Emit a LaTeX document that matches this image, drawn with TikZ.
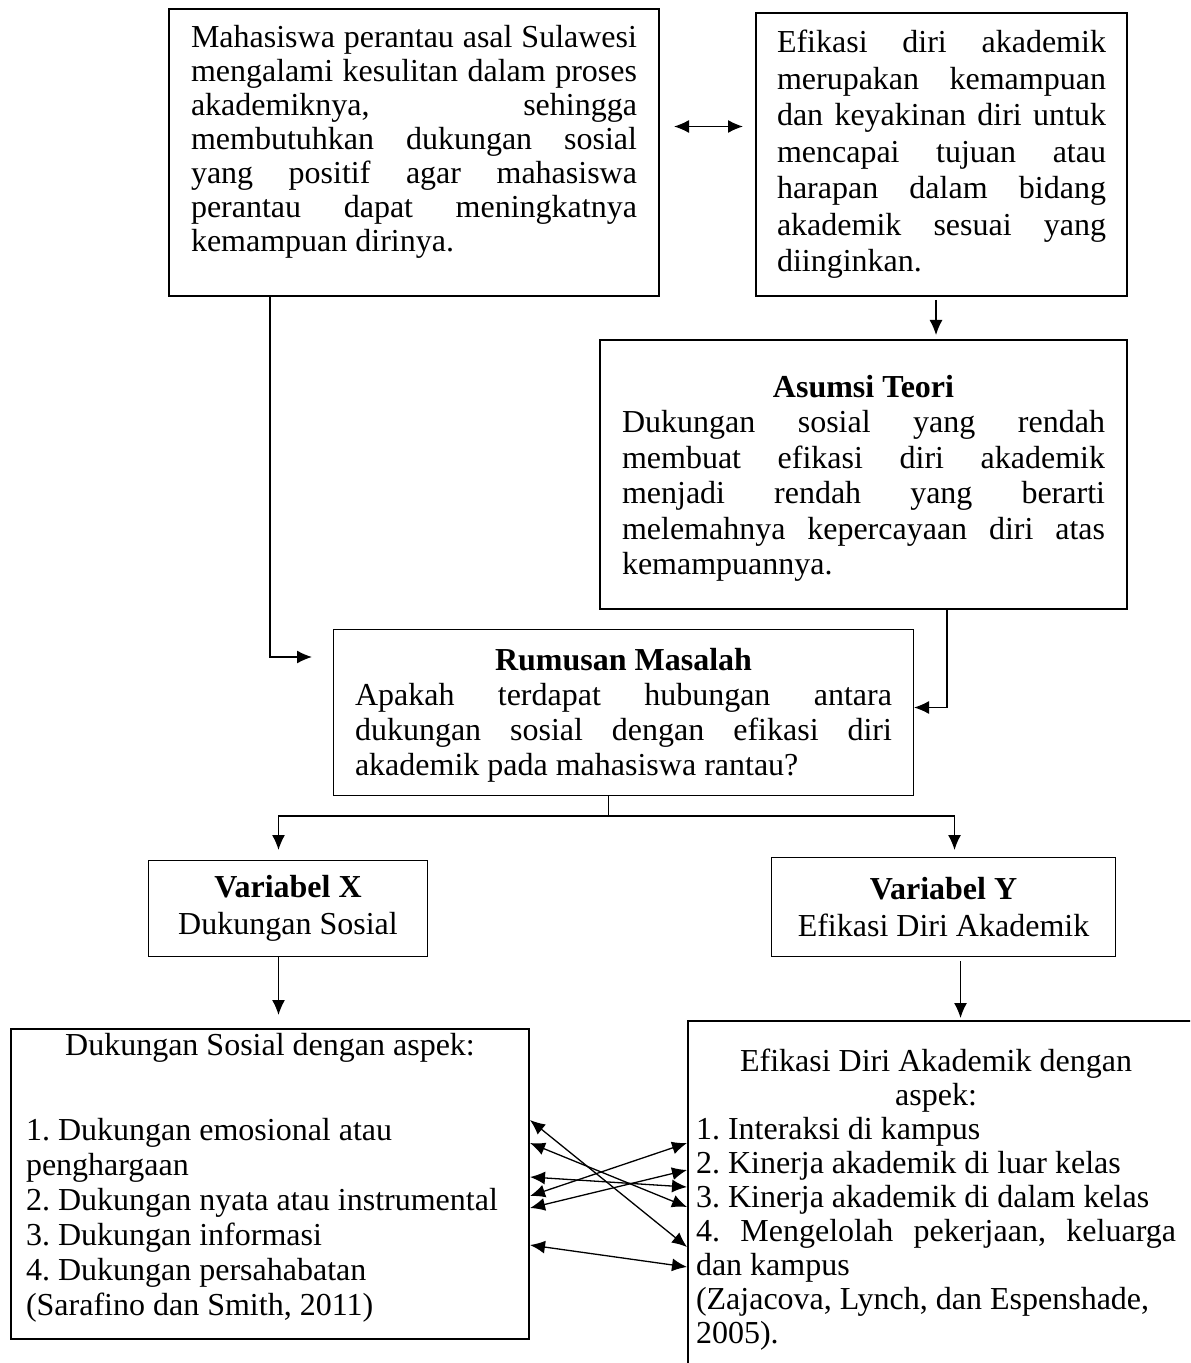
\documentclass[tikz,border=0pt]{standalone}
\usepackage{fontspec}
\setmainfont{Liberation Serif}
\usetikzlibrary{arrows.meta}
\setlength{\parindent}{0pt}
\frenchspacing

\begin{document}
\begin{tikzpicture}[x=0.5pt,y=-0.5pt,
  >={Latex[length=7.5pt,width=6.5pt]},
  txt/.style={font=\fontsize{16pt}{#1}\selectfont},
  txt/.default=18.25pt,
  box/.style={draw,anchor=north west},
  heavybox/.style={box,line width=1pt},
  lightbox/.style={box,line width=0.5pt},
  link/.style={->,line width=0.65pt},
  both/.style={<->,line width=0.65pt}]
\useasboundingbox (0,0) rectangle (1190,1363);
\clip (0,0) rectangle (1190,1363);
\node [heavybox,txt=17pt,inner xsep=11pt,inner ysep=8pt] (ma) at (168,8) {\parbox[t][127.5pt][t]{223pt}{Mahasiswa perantau asal Sulawesi\linebreak mengalami kesulitan dalam proses\linebreak akademiknya, sehingga\linebreak membutuhkan dukungan sosial\linebreak yang positif agar mahasiswa\linebreak perantau dapat meningkatnya\linebreak kemampuan dirinya.}};
\node [heavybox,txt,align=justify,text width=164.5pt,inner xsep=10.5pt,minimum height=141.5pt] (mb) at (755,12) {Efikasi diri akademik\linebreak merupakan kemampuan\linebreak dan keyakinan diri untuk\linebreak mencapai tujuan atau\linebreak harapan dalam bidang\linebreak akademik sesuai yang\linebreak diinginkan.};
\node [heavybox,txt=17.75pt,inner xsep=11pt,inner ysep=17.5pt] (as) at (599,339) {\parbox[t][99.5pt][t]{241.5pt}{{\centering\textbf{Asumsi Teori}\par}Dukungan sosial yang rendah\linebreak membuat efikasi diri akademik\linebreak menjadi rendah yang berarti\linebreak melemahnya kepercayaan diri atas\linebreak kemampuannya.}};
\node [lightbox,txt=17.5pt,inner xsep=10.75pt,inner ysep=9.5pt] (rm) at (333,629) {\parbox[t][64pt][t]{268.5pt}{{\centering\textbf{Rumusan Masalah}\par}Apakah terdapat hubungan antara\linebreak dukungan sosial dengan efikasi diri\linebreak akademik pada mahasiswa rantau?}};
\node [lightbox,txt,align=center,minimum width=139.5pt,minimum height=48pt] (vx) at (148,860) {\textbf{Variabel X}\\ Dukungan Sosial};
\node [lightbox,txt,align=center,minimum width=172pt,minimum height=49.5pt] (vy) at (771,857) {\textbf{Variabel Y}\\ Efikasi Diri Akademik};
\node [heavybox,txt=17.5pt,inner xsep=7.5pt,inner ysep=2pt] (ds) at (10,1028) {\parbox[t][151pt][t]{244pt}{{\centering Dukungan Sosial dengan aspek:\par}\vspace{25pt}1. Dukungan emosional atau\\ penghargaan\\ 2. Dukungan nyata atau instrumental\\ 3. Dukungan informasi\\ 4. Dukungan persahabatan\\ (Sarafino dan Smith, 2011)}};
\node [heavybox,txt=17pt,inner xsep=4pt,inner ysep=14pt] (eda) at (687,1020) {\parbox[t]{240pt}{{\centering Efikasi Diri Akademik dengan\\ aspek:\par}1. Interaksi di kampus\\ 2. Kinerja akademik di luar kelas\\ 3. Kinerja akademik di dalam kelas\\ 4. Mengelolah pekerjaan, keluarga\linebreak dan kampus\\ (Zajacova, Lynch, dan Espenshade,\\ 2005).}\kern30pt};
\draw [both,shorten <=7pt,shorten >=6pt] ([yshift=13pt]ma.east) -- ([yshift=13pt]ma.east -| mb.west);
\draw [link,shorten <=1.5pt,shorten >=2pt] ([xshift=-2.75pt]mb.south) -- ([xshift=-2.75pt]mb.south |- as.north);
\draw [link] ([xshift=51pt]ma.south west) |- ([xshift=-10.5pt,yshift=-14pt]rm.north west);
\draw [link] ([xshift=174pt]as.south west) |- ([yshift=2.5pt]rm.east);
\coordinate (jn) at ([xshift=-7.5pt,yshift=-10pt]rm.south);
\draw [line width=0.65pt] ([xshift=-7.5pt]rm.south) -- (jn);
\draw [link] (jn) -| ([xshift=-4.75pt,yshift=5pt]vx.north);
\draw [link] (jn) -| ([xshift=5.5pt,yshift=3.5pt]vy.north);
\draw [link,shorten >=6.5pt] ([xshift=-4.75pt]vx.south) -- ([xshift=-4.75pt]vx.south |- ds.north);
\draw [link,shorten <=2pt,shorten >=1pt] ([xshift=8.5pt]vy.south) -- ([xshift=8.5pt]vy.south |- eda.north);
\foreach \l/\r in {46/113.5,57.5/93.5,74.5/83.5,84/61.5,90/75,108.5/123.5}
  \draw [both] ([yshift=-\l pt]ds.north east) -- ([yshift=-\r pt]eda.north west);
\end{tikzpicture}
\end{document}
